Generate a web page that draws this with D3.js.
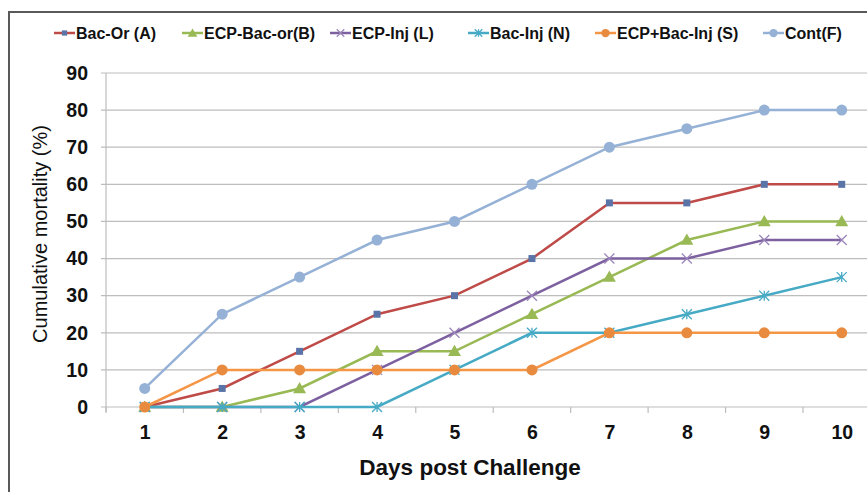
<!DOCTYPE html>
<html>
<head>
<meta charset="utf-8">
<script src="https://cdn.jsdelivr.net/npm/d3@7"></script>
<style>
  body { margin: 0; background: #fff; }
  svg { font-family: "Liberation Sans", Arial, sans-serif; }
</style>
</head>
<body>
<script>
// days after challenge
const days = [1, 2, 3, 4, 5, 6, 7, 8, 9, 10];
const yTicks = [0, 10, 20, 30, 40, 50, 60, 70, 80, 90];

// cumulative mortality (%) per group
const bacOr = [0, 5, 15, 25, 30, 40, 55, 55, 60, 60];
const ecpBacOr = [0, 0, 5, 15, 15, 25, 35, 45, 50, 50];
const ecpInj = [0, 0, 0, 10, 20, 30, 40, 40, 45, 45];
const bacInj = [0, 0, 0, 0, 10, 20, 20, 25, 30, 35];
const ecpBacInj = [0, 10, 10, 10, 10, 10, 20, 20, 20, 20];
const cont = [5, 25, 35, 45, 50, 60, 70, 75, 80, 80];

const seriesNames = ["Bac-Or (A)", "ECP-Bac-or(B)", "ECP-Inj (L)", "Bac-Inj (N)", "ECP+Bac-Inj (S)", "Cont(F)"];

const series = [
  { name: seriesNames[0], values: bacOr, color: "#BE4B48", mark: "square", markColor: "#5A74A8" },
  { name: seriesNames[1], values: ecpBacOr, color: "#98B954", mark: "triangle", markColor: "#98B954" },
  { name: seriesNames[2], values: ecpInj, color: "#7D60A0", mark: "cross", markColor: "#9B86BA" },
  { name: seriesNames[3], values: bacInj, color: "#46AAC5", mark: "star", markColor: "#46AAC5" },
  { name: seriesNames[4], values: ecpBacInj, color: "#F59646", mark: "circle", markColor: "#E98B3E" },
  { name: seriesNames[5], values: cont, color: "#95B1D6", mark: "circle", markColor: "#95B1D6" }
];

const W = 867, H = 492;
const svg = d3.select("body").append("svg")
  .attr("width", W)
  .attr("height", H);

// outer frame (only left and top show in the crop)
svg.append("path")
  .attr("d", "M9,492 V12 H867")
  .attr("fill", "none")
  .attr("stroke", "#595959")
  .attr("stroke-width", 2);

const plotLeft = 106, plotTop = 73, plotBottom = 407;
const step = (842 - 145) / 9;
const plotRight = plotLeft + step * 10;

const x = d3.scalePoint()
  .domain(days)
  .range([plotLeft + step / 2, plotRight - step / 2]);

const y = d3.scaleLinear()
  .domain([0, 90])
  .range([plotBottom, plotTop]);

// horizontal gridlines
svg.append("g")
  .selectAll("line")
  .data(yTicks)
  .join("line")
  .attr("x1", plotLeft - 5)
  .attr("x2", plotRight)
  .attr("y1", d => y(d))
  .attr("y2", d => y(d))
  .attr("stroke", "#BDBDBD")
  .attr("stroke-width", 1.2);

// y axis
const yAxis = svg.append("g")
  .attr("transform", "translate(" + plotLeft + ",0)")
  .call(d3.axisLeft(y).tickValues(yTicks).tickSize(0).tickPadding(18));
yAxis.select(".domain").attr("stroke", "#BDBDBD").attr("stroke-width", 1.2)
  .attr("d", "M0," + plotTop + "V" + (plotBottom + 5));
yAxis.selectAll("text")
  .attr("font-size", 19.5)
  .attr("font-weight", "bold")
  .attr("fill", "#111");

// x axis, ticks sit between categories
const xAxis = svg.append("g")
  .attr("transform", "translate(0," + plotBottom + ")")
  .call(d3.axisBottom(x).tickSize(0).tickPadding(18));
xAxis.select(".domain").remove();
xAxis.selectAll("text")
  .attr("font-size", 19.5)
  .attr("font-weight", "bold")
  .attr("fill", "#111");
xAxis.selectAll(".sep")
  .data(d3.range(11))
  .join("line")
  .attr("class", "sep")
  .attr("x1", i => plotLeft + i * step)
  .attr("x2", i => plotLeft + i * step)
  .attr("y1", 0)
  .attr("y2", 6)
  .attr("stroke", "#BDBDBD")
  .attr("stroke-width", 1.2);

// axis titles
svg.append("text")
  .attr("x", 470)
  .attr("y", 475)
  .attr("text-anchor", "middle")
  .attr("font-size", 22.5)
  .attr("font-weight", "bold")
  .attr("fill", "#111")
  .text("Days post Challenge");

svg.append("text")
  .attr("transform", "translate(47,234) rotate(-90)")
  .attr("text-anchor", "middle")
  .attr("font-size", 20)
  .attr("fill", "#111")
  .text("Cumulative mortality (%)");

// marker drawing helper
function drawMark(g, type, color, cx, cy, size) {
  if (type == "square") {
    g.append("rect")
      .attr("x", cx - size / 2).attr("y", cy - size / 2)
      .attr("width", size).attr("height", size)
      .attr("fill", color);
  } else if (type == "triangle") {
    g.append("path")
      .attr("d", d3.symbol(d3.symbolTriangle, size * size * 0.9)())
      .attr("transform", "translate(" + cx + "," + (cy + 1) + ")")
      .attr("fill", color);
  } else if (type == "circle") {
    g.append("circle")
      .attr("cx", cx).attr("cy", cy).attr("r", size / 2)
      .attr("fill", color);
  } else if (type == "cross") {
    const r = size / 2;
    g.append("path")
      .attr("d", "M" + (cx - r) + "," + (cy - r) + "L" + (cx + r) + "," + (cy + r) +
        "M" + (cx - r) + "," + (cy + r) + "L" + (cx + r) + "," + (cy - r))
      .attr("stroke", color).attr("stroke-width", 1.3).attr("fill", "none");
  } else if (type == "star") {
    const r = size / 2;
    g.append("path")
      .attr("d", "M" + (cx - r) + "," + (cy - r) + "L" + (cx + r) + "," + (cy + r) +
        "M" + (cx - r) + "," + (cy + r) + "L" + (cx + r) + "," + (cy - r) +
        "M" + cx + "," + (cy - r) + "L" + cx + "," + (cy + r))
      .attr("stroke", color).attr("stroke-width", 1.3).attr("fill", "none");
  }
}

const markSize = { square: 7, triangle: 9, circle: 11, cross: 10, star: 10 };

const line = d3.line()
  .x((d, i) => x(days[i]))
  .y(d => y(d));

// draw lines with markers, in legend order
series.forEach(function(s) {
  const g = svg.append("g");
  g.append("path")
    .datum(s.values)
    .attr("d", line)
    .attr("fill", "none")
    .attr("stroke", s.color)
    .attr("stroke-width", 2.5);
  s.values.forEach(function(v, i) {
    drawMark(g, s.mark, s.markColor, x(days[i]), y(v), markSize[s.mark]);
  });
});

// legend
const legendX = [54, 182, 330, 468, 595, 763];
series.forEach(function(s, i) {
  const g = svg.append("g").attr("transform", "translate(" + legendX[i] + ",33)");
  g.append("line")
    .attr("x1", 0).attr("x2", 21)
    .attr("stroke", s.color).attr("stroke-width", 2.5);
  drawMark(g, s.mark, s.markColor, 10.5, 0, markSize[s.mark] * 0.75);
  g.append("text")
    .attr("x", 22)
    .attr("y", 6)
    .attr("font-size", 16)
    .attr("font-weight", "bold")
    .attr("fill", "#111")
    .text(s.name);
});
</script>
</body>
</html>
